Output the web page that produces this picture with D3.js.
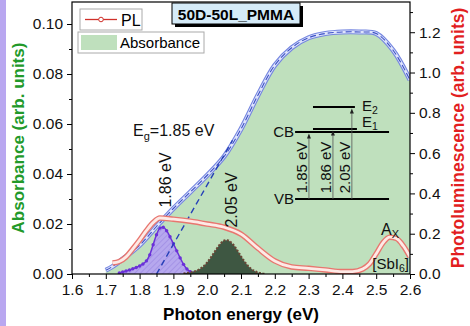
<!DOCTYPE html>
<html><head><meta charset="utf-8">
<script src="https://cdn.jsdelivr.net/npm/d3@7"></script>
<style>body{margin:0;background:#fff}svg{display:block;font-family:"Liberation Sans",Arial,sans-serif}</style>
</head><body><svg id="c" width="470" height="326"></svg>
<script>
// ---------- data ----------
const xTicks = [1.6,1.7,1.8,1.9,2.0,2.1,2.2,2.3,2.4,2.5,2.6];
const leftTicks = [0.00,0.02,0.04,0.06,0.08,0.10];
const rightTicks = [0.0,0.2,0.4,0.6,0.8,1.0,1.2];

// Absorbance (left axis)
const absE = [1.70,1.72,1.75,1.80,1.85,1.90,1.95,2.00,2.05,2.10,2.15,2.20,2.25,2.30,2.35,2.40,2.45,2.50,2.55,2.60];
const absV = [0.0015,0.003,0.006,0.0115,0.019,0.0262,0.0328,0.0395,0.047,0.058,0.0715,0.0835,0.0905,0.0945,0.0962,0.0968,0.0968,0.0962,0.0895,0.0776];

// PL (right axis)
const plE = [1.72,1.74,1.76,1.78,1.80,1.82,1.84,1.86,1.90,1.95,2.00,2.05,2.10,2.15,2.20,2.25,2.30,2.35,2.40,2.43,2.46,2.48,2.50,2.52,2.54,2.56,2.58,2.60];
const plV = [0.055,0.062,0.085,0.125,0.168,0.215,0.255,0.278,0.272,0.262,0.248,0.232,0.198,0.128,0.065,0.035,0.028,0.02,0.012,0.012,0.025,0.05,0.1,0.155,0.183,0.176,0.14,0.085];

// Gaussian component 1.86 eV (right axis)
const p1E = [1.74,1.75,1.76,1.77,1.78,1.79,1.80,1.81,1.82,1.83,1.84,1.85,1.86,1.87,1.88,1.89,1.90,1.91,1.92,1.93,1.94,1.95,1.96,1.97,1.98];
const p1V = [0.005,0.01,0.015,0.02,0.026,0.032,0.04,0.05,0.065,0.095,0.145,0.195,0.228,0.232,0.215,0.185,0.15,0.115,0.08,0.048,0.025,0.012,0.005,0.002,0.0];

// Gaussian component 2.05 eV (right axis)
const p2E = [1.93,1.94,1.95,1.96,1.97,1.98,1.99,2.00,2.01,2.02,2.03,2.04,2.05,2.06,2.07,2.08,2.09,2.10,2.11,2.12,2.13,2.14,2.15,2.16,2.17];
const p2V = [0.002,0.005,0.008,0.012,0.018,0.027,0.04,0.058,0.08,0.105,0.13,0.152,0.166,0.168,0.158,0.14,0.115,0.088,0.063,0.042,0.026,0.015,0.008,0.004,0.001];

// Tauc-like tangent (left axis)
const tanE = [1.85,2.075];
const tanV = [0.0,0.0535];

// ---------- layout ----------
const W=470,H=326, L=72, R=410, T=2, B=274;
const svg = d3.select('#c');
const x = d3.scaleLinear().domain([1.6,2.6]).range([L,R]);
const yL = d3.scaleLinear().domain([0,0.1088]).range([B,T]);
const yR = d3.scaleLinear().domain([0,1.35]).range([B,T]);

svg.append('rect').attr('x',0).attr('y',0).attr('width',6).attr('height',H).attr('fill','#b9a7f0');

const defs = svg.append('defs');
const pat = defs.append('pattern').attr('id','hatch').attr('patternUnits','userSpaceOnUse')
  .attr('width',4).attr('height',4).attr('patternTransform','rotate(45)');
pat.append('rect').attr('width',4).attr('height',4).attr('fill','#b6a8ee');
pat.append('line').attr('x1',0).attr('y1',0).attr('x2',0).attr('y2',4).attr('stroke','#9a86e2').attr('stroke-width',1.2);
defs.append('clipPath').attr('id','clip').append('rect').attr('x',L).attr('y',T).attr('width',R-L).attr('height',B-T);

const g = svg.append('g').attr('clip-path','url(#clip)');
const absD = absE.map((e,i)=>[e,absV[i]]);
const plD = plE.map((e,i)=>[e,plV[i]]);
const p1D = p1E.map((e,i)=>[e,p1V[i]]);
const p2D = p2E.map((e,i)=>[e,p2V[i]]);
const cv = d3.curveMonotoneX;
const cvA = d3.curveCatmullRom.alpha(0.5);

// absorbance fill
g.append('path').datum(absD).attr('fill','#bfe0bd')
  .attr('d', d3.area().x(d=>x(d[0])).y0(yL(0)).y1(d=>yL(d[1])).curve(cvA));

// components
g.append('path').datum(p1D).attr('fill','url(#hatch)')
  .attr('d', d3.area().x(d=>x(d[0])).y0(yR(0)).y1(d=>yR(d[1])).curve(cv));
g.append('path').datum(p1D).attr('fill','none').attr('stroke','#6a30d8').attr('stroke-width',1.5)
  .attr('d', d3.line().x(d=>x(d[0])).y(d=>yR(d[1])).curve(cv));
g.selectAll('.p1m').data(p1D).enter().append('circle').attr('cx',d=>x(d[0])).attr('cy',d=>yR(d[1])).attr('r',1.7).attr('fill','#6a30d8');

g.append('path').datum(p2D).attr('fill','#3e5742')
  .attr('d', d3.area().x(d=>x(d[0])).y0(yR(0)).y1(d=>yR(d[1])).curve(cv));
g.append('path').datum(p2D).attr('fill','none').attr('stroke','#6b4636').attr('stroke-width',2).attr('stroke-dasharray','2,1.6')
  .attr('d', d3.line().x(d=>x(d[0])).y(d=>yR(d[1])).curve(cv));

// absorbance line (open circle band + dashed fit)
const absLine = d3.line().x(d=>x(d[0])).y(d=>yL(d[1])).curve(cvA);
g.append('path').datum(absD).attr('fill','none').attr('stroke','#7586e0').attr('stroke-width',5).attr('d',absLine);
g.append('path').datum(absD).attr('fill','none').attr('stroke','#dfe4fb').attr('stroke-width',2.8).attr('d',absLine);
g.append('path').datum(absD).attr('fill','none').attr('stroke','#3a4fc6').attr('stroke-width',1.1).attr('stroke-dasharray','6,3').attr('d',absLine);

// tangent
g.append('path').datum(tanE.map((e,i)=>[e,tanV[i]])).attr('fill','none').attr('stroke','#2540b8')
  .attr('stroke-width',1.4).attr('stroke-dasharray','6,4')
  .attr('d', d3.line().x(d=>x(d[0])).y(d=>yL(d[1])));

// PL line
const plLine = d3.line().x(d=>x(d[0])).y(d=>yR(d[1])).curve(cv);
g.append('path').datum(plD).attr('fill','none').attr('stroke','#e8766f').attr('stroke-width',5.5).attr('d',plLine);
g.append('path').datum(plD).attr('fill','none').attr('stroke','#fdeae6').attr('stroke-width',2.8).attr('d',plLine);

// ---------- axes ----------
const fs = 15.5;
svg.append('g').attr('transform',`translate(0,${B})`)
  .call(d3.axisBottom(x).tickValues(xTicks).tickSize(5).tickPadding(5).tickFormat(d3.format('.1f')));
const minorX = d3.range(1.65,2.6,0.1);
svg.append('g').attr('transform',`translate(0,${B})`).call(d3.axisBottom(x).tickValues(minorX).tickSize(3).tickFormat(''));
svg.append('g').attr('transform',`translate(${L},0)`)
  .call(d3.axisLeft(yL).tickValues(leftTicks).tickSize(5).tickPadding(4).tickFormat(d3.format('.2f')));
svg.append('g').attr('transform',`translate(${L},0)`).call(d3.axisLeft(yL).tickValues([0.01,0.03,0.05,0.07,0.09]).tickSize(3).tickFormat(''));
svg.append('g').attr('transform',`translate(${R},0)`)
  .call(d3.axisRight(yR).tickValues(rightTicks).tickSize(5).tickPadding(4).tickFormat(d3.format('.1f')));
svg.append('g').attr('transform',`translate(${R},0)`).call(d3.axisRight(yR).tickValues([0.1,0.3,0.5,0.7,0.9,1.1,1.3]).tickSize(3).tickFormat(''));
svg.selectAll('.domain').remove();
svg.selectAll('.tick line').attr('stroke','#000').attr('stroke-width',1);
svg.selectAll('.tick text').attr('font-size',fs).attr('font-family','"Liberation Sans",Arial,sans-serif').attr('fill','#111');
svg.append('rect').attr('x',L).attr('y',T).attr('width',R-L).attr('height',B-T).attr('fill','none').attr('stroke','#000').attr('stroke-width',1.2);

// axis titles
svg.append('text').attr('x',(L+R)/2).attr('y',320).attr('text-anchor','middle').attr('font-weight','bold').attr('font-size',17).text('Photon energy (eV)');
svg.append('text').attr('transform',`translate(24,${(T+B)/2}) rotate(-90)`).attr('text-anchor','middle').attr('font-weight','bold').attr('font-size',17).attr('fill','#22992a').text('Absorbance (arb. units)');
svg.append('text').attr('transform',`translate(464,${(T+B)/2}) rotate(-90)`).attr('text-anchor','middle').attr('font-weight','bold').attr('font-size',17.5).attr('fill','#e21f1f').text('Photoluminescence (arb. units)');

// ---------- annotations ----------
const lab = (t,tx,ty,opt={})=>{
  const el = svg.append('text').attr('font-size',opt.fs||16).attr('fill','#111');
  if(opt.rot) el.attr('transform',`translate(${tx},${ty}) rotate(-90)`).attr('text-anchor','middle');
  else el.attr('x',tx).attr('y',ty).attr('text-anchor',opt.anchor||'start');
  return el;
};
let t = lab('',133,136);
t.append('tspan').text('E');
t.append('tspan').attr('font-size',11).attr('dy',4).text('g');
t.append('tspan').attr('dy',-4).text('=1.85 eV');

lab('',171,180,{rot:true}).text('1.86 eV');
lab('',237,200,{rot:true}).text('2.05 eV');

t = lab('',381,235,{fs:16});
t.append('tspan').text('A');
t.append('tspan').attr('font-size',11).attr('dy',3).text('X');

t = lab('',409,269,{fs:15,anchor:'end'});
t.append('tspan').text('[SbI');
t.append('tspan').attr('font-size',10.5).attr('dy',3).text('6');
t.append('tspan').attr('dy',-3).text(']');

// energy level inset (in data units of left axis)
const levels = [
  {e0:2.26,e1:2.538,v:0.0568},   // CB
  {e0:2.26,e1:2.538,v:0.030},    // VB
  {e0:2.313,e1:2.443,v:0.058},   // E1
  {e0:2.313,e1:2.437,v:0.0668}   // E2
];
levels.forEach(l=>svg.append('line').attr('x1',x(l.e0)).attr('x2',x(l.e1)).attr('y1',yL(l.v)).attr('y2',yL(l.v)).attr('stroke','#000').attr('stroke-width',2));
const arrows = [
  {e:2.301,v0:0.030,v1:0.0568,t:'1.85 eV'},
  {e:2.372,v0:0.030,v1:0.058,t:'1.86 eV'},
  {e:2.428,v0:0.030,v1:0.0668,t:'2.05 eV'}
];
arrows.forEach(a=>{
  const xx=x(a.e), y0=yL(a.v0), y1=yL(a.v1)+1.5;
  svg.append('line').attr('x1',xx).attr('x2',xx).attr('y1',y0).attr('y2',y1+4).attr('stroke','#555').attr('stroke-width',0.8);
  svg.append('path').attr('d',`M${xx},${y1} l-2,5 l4,0 z`).attr('fill','#222');
  lab('',xx-1.5,(y0+yL(0.0568))/2+2,{rot:true,fs:15}).text(a.t);
});
lab('',294,137,{fs:15,anchor:'end'}).text('CB');
lab('',294,204,{fs:15,anchor:'end'}).text('VB');
t = lab('',362,111,{fs:15}); t.append('tspan').text('E'); t.append('tspan').attr('font-size',10.5).attr('dy',3).text('2');
t = lab('',362,127,{fs:15}); t.append('tspan').text('E'); t.append('tspan').attr('font-size',10.5).attr('dy',3).text('1');

// ---------- legend ----------
const lg = svg.append('g');
lg.append('rect').attr('x',80).attr('y',9).attr('width',62).attr('height',21).attr('fill','#fff').attr('stroke','#aaa');
lg.append('line').attr('x1',85).attr('x2',117).attr('y1',19.5).attr('y2',19.5).attr('stroke','#d0302a').attr('stroke-width',1.3);
lg.append('circle').attr('cx',101).attr('cy',19.5).attr('r',2.3).attr('fill','#fff').attr('stroke','#d0302a');
lg.append('text').attr('x',121).attr('y',25.5).attr('font-size',16).text('PL');
lg.append('rect').attr('x',78).attr('y',32).attr('width',126).attr('height',21).attr('fill','#fff').attr('stroke','#aaa');
lg.append('rect').attr('x',81).attr('y',35).attr('width',36).attr('height',15).attr('fill','#bfe0bd');
lg.append('text').attr('x',120).attr('y',48).attr('font-size',15).text('Absorbance');

// title box
svg.append('rect').attr('x',175).attr('y',6).attr('width',128).attr('height',21).attr('fill','#000');
svg.append('rect').attr('x',172).attr('y',3).attr('width',128).attr('height',21).attr('fill','#d5ebf8').attr('stroke','#000');
svg.append('text').attr('x',236).attr('y',19.5).attr('text-anchor','middle').attr('font-weight','bold').attr('font-size',15.5).text('50D-50L_PMMA');
</script></body></html>
